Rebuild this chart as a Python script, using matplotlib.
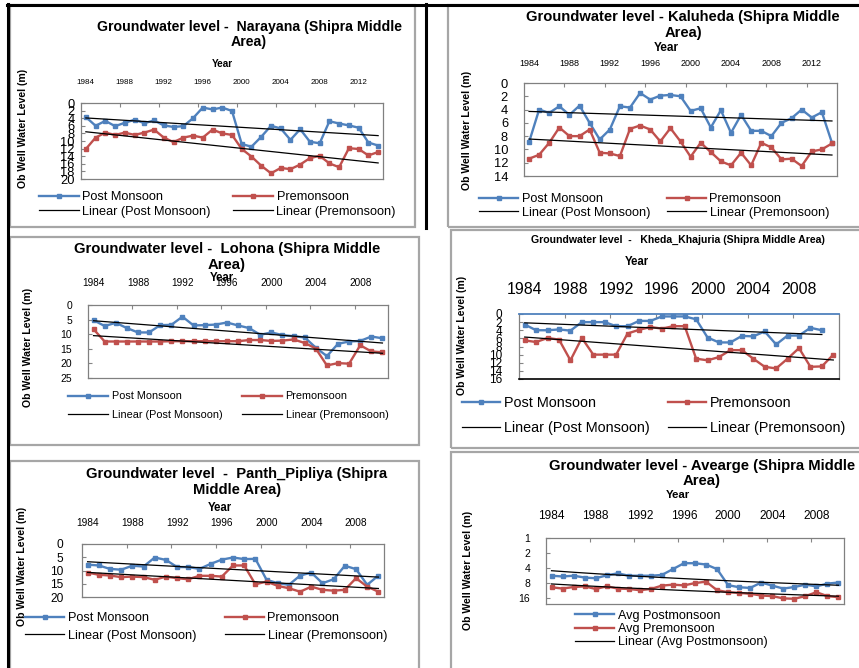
import numpy as np
import matplotlib
matplotlib.use('Agg')
import matplotlib.pyplot as plt
from matplotlib.lines import Line2D
from matplotlib.patches import Rectangle
from matplotlib.ticker import NullLocator

plt.rcParams['font.family'] = ['Liberation Sans', 'DejaVu Sans']

# ---------------- data ----------------
YEARS = [1984, 1985, 1986, 1987, 1988, 1989, 1990, 1991, 1992, 1993, 1994,
         1995, 1996, 1997, 1998, 1999, 2000, 2001, 2002, 2003, 2004, 2005,
         2006, 2007, 2008, 2009, 2010, 2011, 2012, 2013, 2014]

narayana_post = [3.7, 6.0, 4.7, 6.1, 5.2, 4.4, 5.3, 4.6, 5.9, 6.3, 6.1, 4.0, 1.2, 1.7, 1.2, 2.1,
                 10.8, 11.5, 8.9, 6.0, 6.7, 9.7, 6.9, 10.2, 10.6, 4.8, 5.4, 5.9, 6.5, 10.4, 11.2]
narayana_pre = [12.1, 9.1, 7.8, 8.4, 7.8, 8.4, 7.8, 7.0, 9.1, 10.3, 9.1, 8.6, 9.1, 7.0, 8.0, 8.4,
                12.1, 14.1, 16.5, 18.5, 17.1, 17.4, 16.2, 14.5, 13.9, 15.9, 16.9, 11.9, 12.1, 13.8, 12.9]

kaluheda_post = [8.9, 4.0, 4.5, 3.5, 4.8, 3.4, 6.0, 8.5, 7.0, 3.5, 3.7, 1.5, 2.5, 1.9, 1.8, 2.0,
                 4.2, 3.8, 6.7, 4.1, 7.5, 4.8, 7.2, 7.2, 8.0, 6.0, 5.3, 4.0, 5.2, 4.4, 9.0]
kaluheda_pre = [11.4, 10.8, 9.0, 6.7, 8.0, 8.0, 7.0, 10.5, 10.6, 11.0, 6.9, 6.4, 7.0, 8.8, 6.8, 8.8,
                11.1, 9.0, 10.4, 11.8, 12.4, 10.5, 12.4, 9.0, 9.7, 11.5, 11.4, 12.5, 10.3, 10.0, 9.1]

lohona_post = [5.2, 7.2, 6.1, 7.9, 9.4, 9.4, 6.9, 6.8, 4.0, 7.0, 6.9, 6.7, 6.0, 7.0, 7.9, 10.2,
               9.4, 10.3, 10.7, 11.1, 14.6, 17.5, 13.3, 12.5, 12.3, 10.8, 11.4]
lohona_pre = [8.3, 12.5, 12.5, 12.5, 12.5, 12.5, 12.5, 12.4, 12.4, 12.4, 12.4, 12.4, 12.4, 12.4, 12.0, 12.0,
              12.3, 12.2, 11.8, 13.0, 14.9, 20.7, 19.9, 20.1, 13.8, 15.9, 16.2]

kheda_post = [2.6, 4.0, 4.0, 3.8, 4.1, 2.0, 2.0, 2.0, 3.0, 3.0, 1.7, 1.7, 0.6, 0.6, 0.6, 1.3,
              5.8, 7.0, 7.0, 5.4, 5.5, 4.3, 7.5, 5.3, 5.3, 3.4, 4.0]
kheda_pre = [6.5, 6.9, 5.9, 6.3, 11.4, 5.9, 10.0, 10.0, 10.0, 4.8, 3.9, 3.2, 3.6, 3.0, 3.0, 11.0,
             11.4, 10.6, 8.9, 8.9, 11.0, 13.0, 13.4, 11.0, 8.4, 13.0, 12.9, 10.0]

panth_post = [7.8, 8.1, 9.4, 9.7, 8.2, 8.5, 5.1, 6.0, 8.7, 8.7, 9.4, 7.5, 5.9, 5.1, 5.7, 5.6,
              13.5, 14.8, 15.4, 11.9, 10.8, 14.8, 13.3, 8.2, 9.5, 15.4, 11.9]
panth_pre = [10.8, 11.6, 11.9, 12.5, 12.3, 12.5, 13.5, 12.3, 12.9, 13.3, 12.0, 12.0, 12.3, 8.1, 8.1, 15.2,
             14.2, 15.8, 16.7, 18.0, 16.1, 17.3, 17.6, 17.3, 12.9, 16.1, 18.0]

avg_post = [5.7, 5.9, 5.7, 6.2, 6.4, 5.6, 5.1, 5.7, 5.7, 5.7, 5.5, 4.2, 3.2, 3.2, 3.4, 4.2,
            8.8, 9.7, 10.0, 7.8, 9.0, 10.3, 9.6, 8.6, 9.3, 8.2, 7.8]
avg_pre = [9.7, 10.3, 9.6, 9.3, 10.5, 9.3, 10.3, 10.5, 11.1, 10.5, 9.0, 8.6, 8.9, 8.0, 7.5, 11.1,
           12.2, 12.6, 13.1, 14.2, 14.6, 16.2, 16.5, 14.6, 12.2, 14.6, 15.3]

LABELS_STD = ['Post Monsoon', 'Premonsoon', 'Linear (Post Monsoon)', 'Linear (Premonsoon)']
LABELS_AVG = ['Avg Postmonsoon', 'Avg Premonsoon', 'Linear (Avg Postmonsoon)', 'Linear (Avg Premonsoon)']

# ---------------- layout ----------------
W, H = 859, 668
fig = plt.figure(figsize=(W / 100, H / 100), dpi=100)
BLUE = '#4F81BD'
RED = '#C0504D'
PX_PER_PT = 100 / 72.0


def fx(x):
    return x / W


def fy(y):
    return 1 - y / H


def frame(x0, y0, x1, y1):
    fig.add_artist(Rectangle((fx(x0), fy(y1)), (x1 - x0) / W, (y1 - y0) / H,
                             transform=fig.transFigure, fill=False,
                             ec='#a6a6a6', lw=1.6))


def vline(x, y0, y1, lw=2.2):
    fig.add_artist(Line2D([fx(x), fx(x)], [fy(y0), fy(y1)], color='black', lw=lw,
                          transform=fig.transFigure))


def hline(y, x0, x1, lw=2.2):
    fig.add_artist(Line2D([fx(x0), fx(x1)], [fy(y), fy(y)], color='black', lw=lw,
                          transform=fig.transFigure))


def panel(cfg, post, pre, labels):
    x0, y0, x1, y1 = cfg['rect']
    ax = fig.add_axes([fx(x0), fy(y1), (x1 - x0) / W, (y1 - y0) / H])
    n = max(len(post), len(pre))
    xp = np.arange(len(post))
    xq = np.arange(len(pre))
    l1, = ax.plot(xp, post, color=BLUE, lw=1.7, marker='s', ms=3.3, mec=BLUE, label=labels[0])
    l2, = ax.plot(xq, pre, color=RED, lw=1.7, marker='s', ms=3.3, mec=RED, label=labels[1])
    trends = []
    for xs, ys, lab in ((xp, post, labels[2]), (xq, pre, labels[3])):
        c = np.polyfit(xs, ys, 1)
        xx = np.linspace(xs[0], xs[-1], 60)
        t, = ax.plot(xx, np.polyval(c, xx), color='black', lw=0.9, label=lab)
        trends.append(t)
    handles = [l1, l2] + trends

    if cfg.get('log'):
        ax.set_yscale('log', base=2)
    ax.set_xlim(-0.5, n - 0.5)
    ax.set_ylim(cfg['ylim'][1], cfg['ylim'][0])
    ax.set_yticks(cfg['yticks'])
    ax.set_yticklabels([str(v) for v in cfg['yticks']])
    ax.yaxis.set_minor_locator(NullLocator())

    ax.xaxis.set_ticks_position('top')
    ax.set_xticks(np.arange(3.5, n - 0.5, 4))
    ax.set_xticklabels([])
    lab_idx = np.arange(0, n, 4)
    ax.set_xticks(lab_idx, minor=True)
    ax.set_xticklabels([str(YEARS[i]) for i in lab_idx], minor=True)
    ax.tick_params(axis='x', which='major', direction='in', length=3, color='#868686',
                   top=True, bottom=False, labeltop=False, labelbottom=False)
    ax.tick_params(axis='x', which='minor', length=0, top=True, bottom=False,
                   labeltop=True, labelbottom=False, pad=cfg['xpad'], labelsize=cfg['xfs'])
    ax.tick_params(axis='y', direction='in', length=3, color='#868686',
                   pad=cfg['ypad'], labelsize=cfg['yfs'])
    for s in ax.spines.values():
        s.set_color('#808080')
        s.set_linewidth(0.9)
    if 'top_spine' in cfg:
        ax.spines['top'].set_color(cfg['top_spine'])
        ax.spines['top'].set_linewidth(1.3)
    if 'bottom_spine' in cfg:
        ax.spines['bottom'].set_color(cfg['bottom_spine'])
        ax.spines['bottom'].set_linewidth(1.2)

    tx, ty = cfg['title_xy']
    fig.text(fx(tx), fy(ty), cfg['title'], ha='center', va='center', fontsize=cfg['title_fs'],
             fontweight='bold', multialignment='center', linespacing=1.15)
    yx, yy = cfg['year_xy']
    fig.text(fx(yx), fy(yy), 'Year', ha='center', va='center', fontsize=cfg['year_fs'],
             fontweight='bold')
    lx, ly = cfg['ylabel_xy']
    fig.text(fx(lx), fy(ly), 'Ob Well Water Level (m)', ha='center', va='center',
             rotation=90, fontsize=7.6, fontweight='bold')

    fs = cfg['leg_fs']
    fs_px = fs * PX_PER_PT
    ra, rb = cfg['leg_rows']
    for lxp, idx in cfg['leg_cols']:
        nrows = len(idx)
        dy = (rb - ra) / (nrows - 1)
        ls = (dy - 1.0 * fs_px) / fs_px
        fig.legend([handles[i] for i in idx], [labels[i] for i in idx],
                   loc='center left', bbox_to_anchor=(fx(lxp), fy((ra + rb) / 2)),
                   bbox_transform=fig.transFigure, frameon=False, borderpad=0,
                   borderaxespad=0, fontsize=fs, handlelength=cfg['leg_hl'] / fs_px,
                   handletextpad=3.5 / fs_px, labelspacing=ls, numpoints=1)
    return ax


# document borders and chart frames
frame(10, 5, 415, 227)
frame(448, 5, 870, 227)
frame(10, 237, 419, 445)
frame(451, 230, 870, 448)
frame(10, 461, 419, 680)
frame(451, 452, 870, 680)
hline(5, 7, 859)
vline(8, 4, 668)
vline(426, 4, 228)

cfg_narayana = dict(rect=(81, 103, 383, 179), ylim=(0, 20), yticks=list(range(0, 21, 2)),
                    yfs=9.3, ypad=4.5, xfs=5.8, xpad=12.0,
                    title='Groundwater level -  Narayana (Shipra Middle\nArea)',
                    title_xy=(249, 34.5), title_fs=10.2, year_xy=(222, 64), year_fs=7.2,
                    ylabel_xy=(23, 128), leg_fs=9.2, leg_rows=(197, 212), leg_hl=40,
                    leg_cols=[(39, [0, 2]), (233, [1, 3])])
cfg_kaluheda = dict(rect=(524, 83, 837, 176), ylim=(0, 14), yticks=list(range(0, 15, 2)),
                    yfs=9.3, ypad=11.5, xfs=6.5, xpad=10.8,
                    title='Groundwater level - Kaluheda (Shipra Middle\nArea)',
                    title_xy=(683, 25), title_fs=10.6, year_xy=(666, 48), year_fs=8.5,
                    ylabel_xy=(467, 130), leg_fs=9.2, leg_rows=(199, 213), leg_hl=39,
                    leg_cols=[(479, [0, 2]), (667, [1, 3])])
cfg_lohona = dict(rect=(88, 305, 388, 378), ylim=(0, 25), yticks=list(range(0, 26, 5)),
                  yfs=7.5, ypad=11.5, xfs=7.2, xpad=12.6,
                  title='Groundwater level -  Lohona (Shipra Middle\nArea)',
                  title_xy=(227, 257), title_fs=10.7, year_xy=(222, 278), year_fs=8.3,
                  ylabel_xy=(28, 347), leg_fs=7.8, leg_rows=(396, 415), leg_hl=40,
                  leg_cols=[(68, [0, 2]), (242, [1, 3])])
cfg_kheda = dict(rect=(519, 314, 839, 379), ylim=(0, 16), yticks=list(range(0, 17, 2)),
                 yfs=8.5, ypad=12, xfs=11.4, xpad=12.4,
                 title='Groundwater level  -   Kheda_Khajuria (Shipra Middle Area)',
                 title_xy=(678, 240), title_fs=7.6, year_xy=(637, 262), year_fs=8.3,
                 ylabel_xy=(462, 335), leg_fs=10.4, leg_rows=(403, 428), leg_hl=38,
                 leg_cols=[(462, [0, 2]), (668, [1, 3])],
                 top_spine=BLUE, bottom_spine='black')
cfg_panth = dict(rect=(82, 544, 384, 597), ylim=(0, 20), yticks=list(range(0, 21, 5)),
                 yfs=8.6, ypad=13.4, xfs=7.3, xpad=11.8,
                 title='Groundwater level  -  Panth_Pipliya (Shipra\nMiddle Area)',
                 title_xy=(237, 482), title_fs=10.6, year_xy=(220, 508), year_fs=8.3,
                 ylabel_xy=(22, 566), leg_fs=9.2, leg_rows=(618, 636), leg_hl=39,
                 leg_cols=[(25, [0, 2]), (225, [1, 3])])
cfg_avg = dict(rect=(546, 538, 844, 604), ylim=(1, 21), yticks=[1, 2, 4, 8, 16], log=True,
               yfs=7.5, ypad=11.5, xfs=8.6, xpad=11.8,
               title='Groundwater level - Avearge (Shipra Middle\nArea)',
               title_xy=(702, 473.5), title_fs=10.7, year_xy=(678, 495), year_fs=8.2,
               ylabel_xy=(468, 570), leg_fs=9.1, leg_rows=(615, 643), leg_hl=39,
               leg_cols=[(575, [0, 1, 2])])

panel(cfg_narayana, narayana_post, narayana_pre, LABELS_STD)
panel(cfg_kaluheda, kaluheda_post, kaluheda_pre, LABELS_STD)
panel(cfg_lohona, lohona_post, lohona_pre, LABELS_STD)
panel(cfg_kheda, kheda_post, kheda_pre, LABELS_STD)
panel(cfg_panth, panth_post, panth_pre, LABELS_STD)
panel(cfg_avg, avg_post, avg_pre, LABELS_AVG)

fig.savefig('out.png', dpi=100)
